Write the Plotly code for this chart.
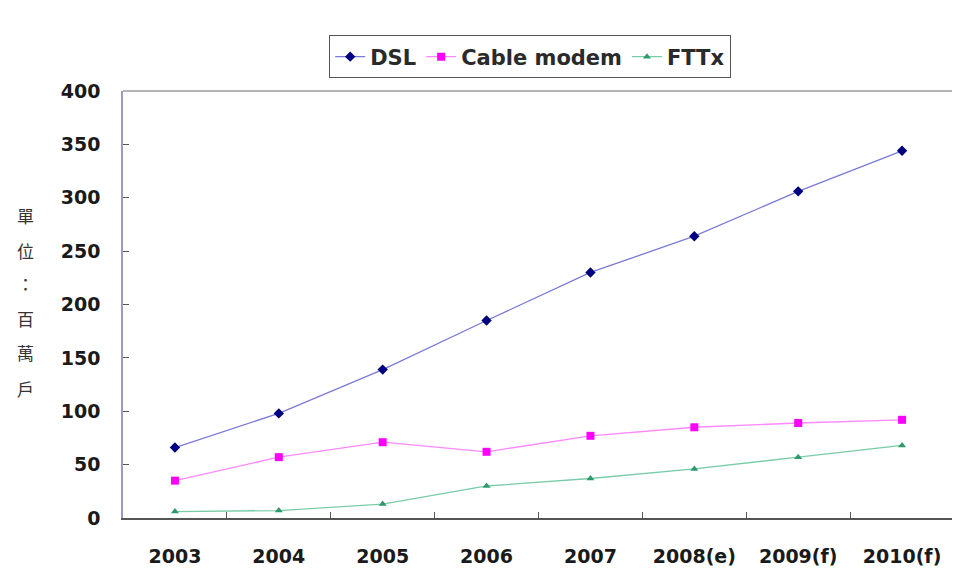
import plotly.graph_objects as go

years = ["2003", "2004", "2005", "2006", "2007", "2008(e)", "2009(f)", "2010(f)"]
dsl = [66, 98, 139, 185, 230, 264, 306, 344]
cable = [35, 57, 71, 62, 77, 85, 89, 92]
fttx = [6, 7, 13, 30, 37, 46, 57, 68]
y_title_chars = ["單", "位", "：", "百", "萬", "戶"]

fig = go.Figure()
fig.add_trace(go.Scatter(x=years, y=dsl, name="DSL", mode="lines+markers",
                         line=dict(color="#7a7ad8", width=1.3),
                         marker=dict(symbol="diamond", size=8, color="#000080")))
fig.add_trace(go.Scatter(x=years, y=cable, name="Cable modem", mode="lines+markers",
                         line=dict(color="#ff88ff", width=1.3),
                         marker=dict(symbol="square", size=8, color="#ff00ff")))
fig.add_trace(go.Scatter(x=years, y=fttx, name="FTTx", mode="lines+markers",
                         line=dict(color="#78cca8", width=1.3),
                         marker=dict(symbol="triangle-up", size=7, color="#2e9a6a")))

font = "DejaVu Sans, sans-serif"
W, H = 952, 564
ML, MR, MT, MB = 115, 4, 83, 54
fig.update_layout(
    width=W, height=H,
    margin=dict(l=ML, r=MR, t=MT, b=MB),
    paper_bgcolor="white", plot_bgcolor="white",
    font=dict(family=font, color="#222222"),
    showlegend=True,
    legend=dict(orientation="h", x=0.49, xanchor="center", y=1.13, yanchor="top",
                bordercolor="#555555", borderwidth=1,
                font=dict(size=21, family=font, color="#2a2a2a", weight="bold"),
                itemwidth=30, tracegroupgap=0),
    xaxis=dict(type="category", range=[-0.5, 7.5], showgrid=False,
               showline=True, linecolor="#555555", linewidth=1.5, mirror=False,
               ticks="inside", ticklen=6, tickcolor="#555555", tickson="boundaries",
               tickfont=dict(size=19, family=font, color="#1a1a1a", weight="bold"),
               ticklabelstandoff=20),
    yaxis=dict(range=[0, 400], dtick=50, showgrid=False, zeroline=False,
               showline=True, linecolor="#9a9ac8", linewidth=1.5, mirror=True,
               ticks="inside", ticklen=6, tickcolor="#555555",
               tickfont=dict(size=19, family=font, color="#1a1a1a", weight="bold"),
               ticklabelstandoff=17),
)

# light top frame line of the plot area
fig.add_shape(type="line", xref="paper", yref="paper", x0=0, x1=1, y0=1, y1=1,
              line=dict(color="#b4b4b4", width=2))

ys = [215, 250, 283, 318, 352, 388]
pw = W - ML - MR
ph = H - MT - MB
for ch, yp in zip(y_title_chars, ys):
    fig.add_annotation(text=ch, xref="paper", yref="paper",
                       x=(25 - 123) / pw, y=(518 - yp) / ph,
                       xanchor="center", yanchor="middle", showarrow=False,
                       font=dict(size=17, family="Noto Sans CJK TC", color="#333333"))

fig.write_html("out.html")
